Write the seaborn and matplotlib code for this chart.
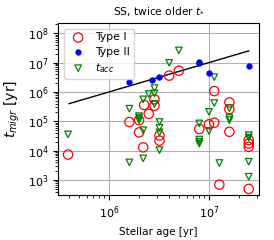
import numpy as np
import matplotlib
matplotlib.use("Agg")
import matplotlib.pyplot as plt
import seaborn as sns

# Type I migration times (open red circles)
age_type1 = [3.9e5, 1.6e6, 2.0e6, 2.0e6, 2.2e6, 2.25e6, 2.5e6, 2.85e6, 2.85e6,
             3.2e6, 3.2e6, 4.0e6, 5.0e6, 8.0e6, 1.0e7, 1.13e7, 1.13e7, 1.27e7,
             1.6e7, 1.6e7, 1.6e7, 2.5e7, 2.5e7, 2.5e7, 2.5e7]
t_type1 = [7.4e3, 9.5e4, 1.1e5, 4.2e4, 1.3e4, 3.6e5, 1.8e5, 5.6e5, 3.4e5,
           3.3e4, 2.2e4, 3.6e6, 5.3e6, 5.5e4, 7.9e4, 9.0e4, 1.07e6, 7.0e2,
           4.4e5, 2.6e5, 4.4e4, 2.3e4, 1.75e4, 1.35e4, 5.0e2]

# Type II migration times (filled blue dots)
age_type2 = [1.6e6, 2.7e6, 3.2e6, 8.0e6, 8.0e6, 1.0e7, 2.5e7]
t_type2 = [2.1e6, 2.6e6, 3.2e6, 1.07e7, 9.5e6, 4.4e6, 7.6e6]

# accretion times (open green down-triangles)
age_acc = [3.9e5, 1.6e6, 1.6e6, 2.0e6, 2.0e6, 2.0e6, 2.2e6, 2.2e6, 2.2e6,
           2.5e6, 2.85e6, 2.85e6, 2.85e6, 3.2e6, 3.2e6, 3.2e6, 3.2e6, 4.0e6,
           5.0e6, 8.0e6, 8.0e6, 8.0e6, 8.0e6, 1.0e7, 1.0e7, 1.13e7, 1.13e7,
           1.27e7, 1.6e7, 1.6e7, 1.6e7, 2.5e7, 2.5e7, 2.5e7, 2.5e7]
t_acc = [3.6e4, 2.7e5, 4.0e3, 1.5e5, 1.3e5, 1.1e5, 5.6e5, 5.0e4, 5.5e3,
         8.5e5, 1.35e6, 9.0e5, 3.9e5, 9.5e4, 6.0e4, 4.2e4, 1.05e4, 9.8e6,
         2.6e7, 8.5e4, 2.4e4, 2.0e4, 1.75e4, 2.1e5, 4.7e4, 3.2e6, 4.2e5,
         3.8e3, 2.8e5, 1.3e5, 1.1e5, 3.4e4, 2.8e4, 4.2e3, 1.3e3]

# t_migr = age reference line
line_age = [4.0e5, 2.5e7]

fig = plt.figure(figsize=(2.74, 2.40), dpi=100)
ax = fig.add_axes([0.212, 0.1875, 0.733, 0.716])

sns.scatterplot(x=age_type1, y=t_type1, ax=ax, marker="o", s=45,
                facecolors="none", edgecolors="red", linewidth=0.9,
                label="Type I", zorder=3)
sns.scatterplot(x=age_type2, y=t_type2, ax=ax, marker="o", s=16,
                color="blue", edgecolor="blue", linewidth=0.5,
                label="Type II", zorder=4)
sns.scatterplot(x=age_acc, y=t_acc, ax=ax, marker="v", s=22,
                facecolors="none", edgecolors="green", linewidth=0.9,
                label="$t_{acc}$", zorder=3)
sns.lineplot(x=line_age, y=line_age, ax=ax, color="black", linewidth=1.0,
             zorder=2)

ax.set_xscale("log")
ax.set_yscale("log")
ax.set_xlim(3.1e5, 3.16e7)
ax.set_ylim(3.1e2, 2.2e8)
ax.grid(True, which="major", color="#b0b0b0", linewidth=0.8)
ax.set_axisbelow(True)
ax.tick_params(labelsize=8)

ax.set_title("SS, twice older $t_{*}$", fontsize=7.7)
ax.set_xlabel("Stellar age [yr]", fontsize=7.5)
ax.set_ylabel("$t_{migr}$ [yr]", fontsize=10)

ax.legend(loc="upper left", fontsize=7.8, framealpha=0.8,
          handletextpad=0.6, borderpad=0.35, labelspacing=0.4)

fig.savefig("out.png", dpi=100)
